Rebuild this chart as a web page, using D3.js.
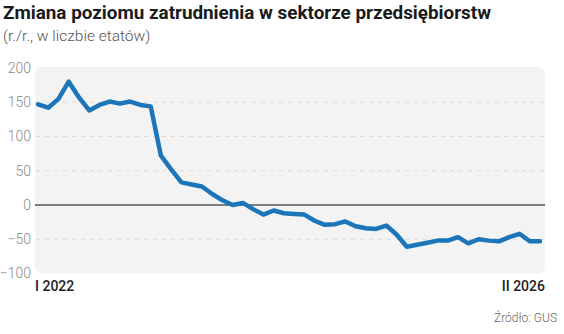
<!DOCTYPE html>
<html>
<head>
<meta charset="utf-8">
<script src="https://cdn.jsdelivr.net/npm/d3@7"></script>
<style>
  body { margin: 0; background: #fff; }
  svg text { font-family: Roboto, "Open Sans", sans-serif; }
</style>
</head>
<body>
<div id="container"></div>
<script>

var width = 564;

var height = 334;

// monthly, I 2022 - II 2026 (thousands of jobs, y/y)
var romans = ["I","II","III","IV","V","VI","VII","VIII","IX","X","XI","XII"];

var months = [];

for (var yr = 2022; yr <= 2026; yr++) {
    for (var m = 0; m < 12; m++) {
        if (yr == 2026 && m > 1) break;
        months.push(romans[m] + " " + yr);
    }
}

var values = [147, 142, 155, 180, 157, 138, 146, 151, 148, 151, 146, 144,
              72, 52, 33, 30, 27, 16, 7, 0, 3, -6, -14, -8,
              -12, -13, -14, -23, -29, -28, -24, -31, -34, -35, -30, -43,
              -61, -58, -55, -52, -52, -47, -56, -50, -52, -53, -47, -42,
              -53, -53];

var yTicks = [200, 150, 100, 50, 0, -50, -100];

var xLabels = ["I 2022", "II 2026"];

var lineColor = "#1c75b8";

var svg = d3.select("#container")
    .append("svg")
    .attr("width", width)
    .attr("height", height);

var x = d3.scalePoint()
    .domain(months)
    .range([38, 540]);

var y = d3.scaleLinear()
    .domain([-100, 200])
    .range([273.5, 68]);

// panel background
svg.append("rect")
    .attr("x", 35)
    .attr("y", y(200) - 1)
    .attr("width", 510)
    .attr("height", y(-100) - y(200) + 1)
    .attr("rx", 7)
    .attr("fill", "#f3f3f3");

// gridlines
svg.append("g")
    .selectAll("line")
    .data(yTicks.filter(function(d){ return d != 0 && d != 200 && d != -100; }))
    .enter()
    .append("line")
    .attr("x1", 36)
    .attr("x2", 544)
    .attr("y1", function(d){ return y(d); })
    .attr("y2", function(d){ return y(d); })
    .attr("stroke", "#dcdcdc")
    .attr("stroke-width", 1.2)
    .attr("stroke-dasharray", "4,5");

// zero line
svg.append("line")
    .attr("x1", 35)
    .attr("x2", 545)
    .attr("y1", y(0))
    .attr("y2", y(0))
    .attr("stroke", "#555")
    .attr("stroke-width", 1.5);

// y axis labels
svg.append("g")
    .attr("transform", "translate(31,0)")
    .call(d3.axisLeft(y).tickValues(yTicks).tickSize(0).tickPadding(0))
    .call(function(g){ g.select(".domain").remove(); })
    .selectAll("text")
    .attr("fill", "#8a8a8a")
    .attr("font-size", 14)
    .attr("font-weight", 300)
    .style("font-family", "Roboto, sans-serif");

// line
var line = d3.line()
    .x(function(d, i){ return x(months[i]); })
    .y(function(d){ return y(d); });

svg.append("path")
    .datum(values)
    .attr("d", line)
    .attr("fill", "none")
    .attr("stroke", lineColor)
    .attr("stroke-width", 4.5)
    .attr("stroke-linejoin", "round")
    .attr("stroke-linecap", "round");

// x labels
svg.append("text")
    .attr("x", 35)
    .attr("y", 291)
    .attr("font-size", 14)
    .attr("font-weight", 500)
    .attr("fill", "#222")
    .text(xLabels[0]);

svg.append("text")
    .attr("x", 545)
    .attr("y", 291)
    .attr("text-anchor", "end")
    .attr("font-size", 14)
    .attr("font-weight", 500)
    .attr("fill", "#222")
    .text(xLabels[1]);

// title
svg.append("text")
    .attr("x", 3)
    .attr("y", 19)
    .attr("font-size", 18)
    .attr("font-weight", 700)
    .attr("fill", "#1a1a1a")
    .attr("textLength", 488)
    .attr("lengthAdjust", "spacingAndGlyphs")
    .text("Zmiana poziomu zatrudnienia w sektorze przedsiębiorstw");

svg.append("text")
    .attr("x", 3)
    .attr("y", 41)
    .attr("font-size", 15.5)
    .attr("font-weight", 300)
    .attr("fill", "#555")
    .text("(r./r., w liczbie etatów)");

// source
svg.append("text")
    .attr("x", 557)
    .attr("y", 322)
    .attr("text-anchor", "end")
    .attr("font-size", 12)
    .attr("font-weight", 300)
    .attr("fill", "#666")
    .text("Źródło: GUS");

</script>
</body>
</html>
